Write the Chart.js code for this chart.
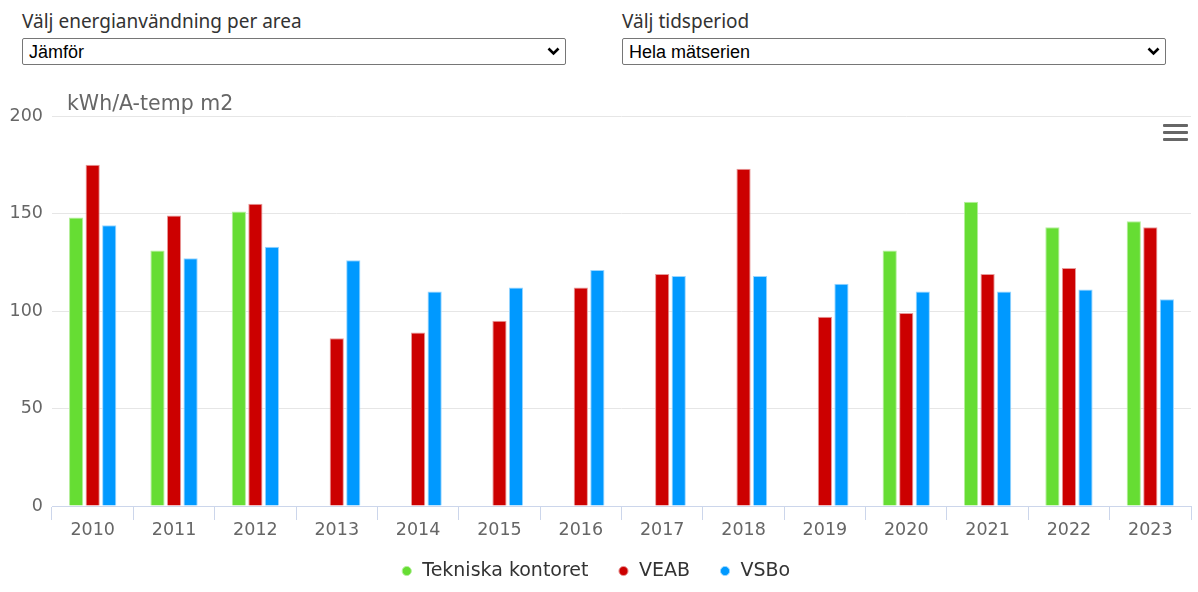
<!DOCTYPE html>
<html lang="sv">
<head>
<meta charset="utf-8">
<title>Energianvändning per area</title>
<script src="https://cdn.jsdelivr.net/npm/chart.js@4.4.1/dist/chart.umd.min.js"></script>
<style>
  body { margin: 0; background: #fff; width: 1198px; height: 592px; overflow: hidden; position: relative; }
  .lbl { position: absolute; top: 12px; font-family: "Noto Sans", sans-serif; font-size: 19px; line-height: 19px; color: #333; }
  select { position: absolute; top: 38px; height: 27px; width: 544px; font-family: "Liberation Sans", Arial, sans-serif;
           font-size: 18px; color: #000; border: 1px solid #767676; border-radius: 2px; padding: 0 24px 0 6px;
           -webkit-appearance: none; appearance: none;
           background: #fff url("data:image/svg+xml,%3Csvg xmlns='http://www.w3.org/2000/svg' width='13' height='9' viewBox='0 0 13 9'%3E%3Cpath d='M1.5 1.5 L6.5 6.5 L11.5 1.5' fill='none' stroke='%23000' stroke-width='2.6'/%3E%3C/svg%3E") no-repeat right 5px center; }
  #wrap { position: absolute; left: 0; top: 85px; width: 1198px; height: 507px; }
  .burger { position: absolute; left: 1163px; width: 25px; height: 3px; background: #666; border-radius: 1px; }
</style>
</head>
<body>
<div class="lbl" style="left:22px">Välj energianvändning per area</div>
<select style="left:22px"><option>Jämför</option></select>
<div class="lbl" style="left:622px">Välj tidsperiod</div>
<select style="left:622px"><option>Hela mätserien</option></select>

<div id="wrap"><canvas id="myChart"></canvas></div>
<div class="burger" style="top:124px"></div>
<div class="burger" style="top:131px"></div>
<div class="burger" style="top:138px"></div>

<script>
// år och värden (kWh/A-temp m2)
const years = ['2010','2011','2012','2013','2014','2015','2016','2017','2018','2019','2020','2021','2022','2023'];
const tekniska = [148, 131, 151, null, null, null, null, null, null, null, 131, 156, 143, 146];
const veab     = [175, 149, 155, 86, 89, 95, 112, 119, 173, 97, 99, 119, 122, 143];
const vsbo     = [144, 127, 133, 126, 110, 112, 121, 118, 118, 114, 110, 110, 111, 106];
const yTicks = [0, 50, 100, 150, 200];

const font = '"DejaVu Sans", Verdana, sans-serif';

// y-axelns titel uppe till vänster
const unitTitle = {
    id: 'unitTitle',
    afterDraw(chart) {
        const c = chart.ctx;
        c.save();
        c.font = '20.5px ' + font;
        c.fillStyle = '#666';
        c.textBaseline = 'alphabetic';
        c.fillText('kWh/A-temp m2', 67, 25);
        c.restore();
    }
};

// legenden lite närmare x-axeln
const legendTweak = {
    id: 'legendTweak',
    afterInit(chart) {
        const lg = chart.legend;
        const fit = lg.fit;
        lg.fit = function () { fit.call(this); this.height -= 7; };
    },
    afterLayout(chart) {
        const lg = chart.legend;
        lg.top -= 8.5;
        lg.bottom -= 8.5;
    }
};

const ctx = document.getElementById('myChart').getContext('2d');
const myChart = new Chart(ctx, {
    type: 'bar',
    data: {
        labels: years,
        datasets: [
            { label: 'Tekniska kontoret', data: tekniska, backgroundColor: '#66dd33', borderColor: '#b5ef9c', borderWidth: 1 },
            { label: 'VEAB', data: veab, backgroundColor: '#cc0000', borderColor: '#e89a9a', borderWidth: 1 },
            { label: 'VSBo', data: vsbo, backgroundColor: '#0099ff', borderColor: '#99d6ff', borderWidth: 1 }
        ]
    },
    options: {
        responsive: true,
        maintainAspectRatio: false,
        animation: false,
        categoryPercentage: 0.61,
        barPercentage: 0.86,
        layout: { padding: { left: 0, right: 7, top: 31, bottom: 0 } },
        scales: {
            x: {
                grid: { offset: true, drawOnChartArea: false, color: '#ccd6eb', tickLength: 14 },
                border: { color: '#ccd6eb' },
                ticks: { color: '#666', font: { family: font, size: 17.5 }, padding: 0 }
            },
            y: {
                min: 0,
                max: 200,
                afterBuildTicks: (axis) => { axis.ticks = yTicks.map(v => ({ value: v })); },
                afterFit: (axis) => { axis.width = 52; },
                grid: { color: '#e6e6e6', drawTicks: false },
                border: { display: false },
                ticks: { color: '#666', font: { family: font, size: 17.5 }, padding: 9 }
            }
        },
        plugins: {
            tooltip: { enabled: false },
            legend: {
                position: 'bottom',
                labels: {
                    usePointStyle: true,
                    pointStyle: 'circle',
                    boxWidth: 12,
                    boxHeight: 6.5,
                    padding: 29,
                    color: '#333',
                    font: { family: font, size: 19 }
                }
            }
        }
    },
    plugins: [unitTitle, legendTweak]
});
</script>
</body>
</html>
